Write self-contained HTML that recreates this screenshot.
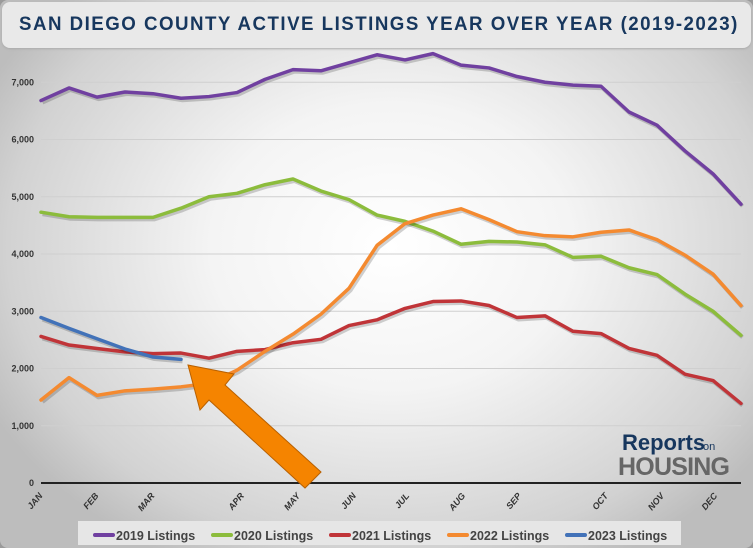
<!DOCTYPE html>
<html><head><meta charset="utf-8"><style>
body{margin:0;width:753px;height:548px;overflow:hidden;background:#9a9a9a;font-family:"Liberation Sans",sans-serif}
#wrap{position:absolute;left:0;top:0;width:753px;height:548px;border-radius:8px;background:radial-gradient(ellipse 60% 65% at 52% 45%,#ffffff 0%,#f4f4f4 40%,#d2d2d2 85%,#bdbdbd 100%)}
#title{position:absolute;left:2px;top:2px;width:749px;height:46px;background:#e9e9e9;border-radius:8px;box-shadow:0 1px 2px #aaa;white-space:nowrap;overflow:hidden}
#tt{position:absolute;left:17px;top:0;line-height:46px;font-weight:bold;font-size:19px;letter-spacing:1.5px;color:#17375e;transform-origin:0 50%;white-space:nowrap}
</style></head><body>
<div id="wrap">
<div id="title"><span id="tt">SAN DIEGO COUNTY ACTIVE LISTINGS YEAR OVER YEAR (2019-2023)</span></div>
<svg id="chart" width="753" height="548" style="position:absolute;left:0;top:0"></svg>
</div>
<script>
const tt=document.getElementById('tt');
tt.style.transform='scaleX('+(720/tt.offsetWidth)+')';
const yTicks=[0,1000,2000,3000,4000,5000,6000,7000];
const yTickLabels=["0","1,000","2,000","3,000","4,000","5,000","6,000","7,000"];
const months=["JAN","FEB","MAR","APR","MAY","JUN","JUL","AUG","SEP","OCT","NOV","DEC"];
const monthIdx=[0,2,4,7.2,9.2,11.2,13.1,15.1,17.1,20.2,22.2,24.1];
const s2019=[6680,6900,6740,6830,6800,6720,6750,6820,7050,7220,7200,7340,7480,7390,7500,7300,7250,7100,7000,6950,6930,6480,6250,5800,5400,4870];
const s2020=[4730,4650,4640,4640,4640,4800,5000,5060,5210,5310,5100,4950,4680,4570,4400,4170,4220,4210,4160,3940,3960,3760,3640,3300,3000,2580];
const s2021=[2560,2410,2350,2290,2260,2270,2180,2300,2330,2450,2510,2750,2850,3050,3170,3180,3100,2890,2920,2650,2610,2350,2230,1900,1790,1390];
const s2022=[1450,1840,1530,1610,1640,1680,1740,1970,2300,2600,2950,3400,4150,4530,4680,4790,4600,4390,4320,4300,4380,4420,4250,3980,3650,3100];
const s2023=[2890,2700,2520,2340,2200,2160];
const seriesNames=["2019 Listings","2020 Listings","2021 Listings","2022 Listings","2023 Listings"];
const seriesColors=["#7040a0","#8cbc3c","#c03438","#f48a30","#4272b8"];
const seriesData=[s2019,s2020,s2021,s2022,s2023];

const NS="http://www.w3.org/2000/svg";
const svg=document.getElementById('chart');
const X=i=>41+i*28;
const Y=v=>483-v*0.05725;
function mk(t,a){const e=document.createElementNS(NS,t);for(const k in a)e.setAttribute(k,a[k]);svg.appendChild(e);return e;}
yTicks.forEach((v,i)=>{
 if(v>0){const g=mk('line',{x1:41,x2:741,y1:Y(v),y2:Y(v),stroke:'#cfcfcf','stroke-width':1});
 
 }
 const t=mk('text',{x:34,y:Y(v)+3,'text-anchor':'end','font-size':9,'font-weight':'bold',fill:'#333'});
 t.textContent=yTickLabels[i];
 
 
});
const ax=mk('line',{x1:41,x2:741,y1:Y(0),y2:Y(0),stroke:'#222','stroke-width':2});


months.forEach((m,i)=>{
 const x=X(monthIdx[i])+2,y=496;
 const t=mk('text',{x:x,y:y,'text-anchor':'end','font-size':9,'font-weight':'bold','font-style':'italic',fill:'#333',transform:`rotate(-50 ${x} ${y})`});
 t.textContent=m;
 
 
});
seriesData.forEach((d,s)=>{
 const pts=d.map((v,i)=>X(i)+','+Y(v)).join(' ');
 const sh=mk('polyline',{points:d.map((v,i)=>(X(i)+1.5)+','+(Y(v)+2)).join(' '),fill:'none',stroke:'rgba(0,0,0,0.18)','stroke-width':4,'stroke-linejoin':'round'});
 
 
 const p=mk('polyline',{points:pts,fill:'none',stroke:seriesColors[s],'stroke-width':3.5,'stroke-linejoin':'round','stroke-linecap':'round'});
 
 
});
// arrow
const ar=mk('polygon',{points:'188,365 234,374 225,385 321,472 305,488 209,400 200,410',fill:'#f58400',stroke:'#b86000','stroke-width':1});


// logo
const lg=mk('text',{x:622,y:450,'font-size':22,fill:'#17375e','font-weight':'bold'});
lg.textContent='Reports';


const lo=mk('text',{x:703,y:450,'font-size':11,fill:'#17375e'});
lo.textContent='on';


const lh=mk('text',{x:618,y:475,'font-size':25,fill:'#666','font-weight':'bold',textLength:112});
lh.textContent='HOUSING';


// legend
const lb=mk('rect',{x:78,y:521,width:603,height:24,fill:'#e6e6e6'});


const lx=[95,213,331,449,567];
seriesNames.forEach((n,i)=>{
 const l=mk('line',{x1:lx[i],x2:lx[i]+18,y1:535,y2:535,stroke:seriesColors[i],'stroke-width':4,'stroke-linecap':'round'});
 
 
 const t=mk('text',{x:lx[i]+21,y:540,'font-size':12.5,'font-weight':'bold',fill:'#444'});
 t.textContent=n;
 
 
});
</script>
</body></html>
